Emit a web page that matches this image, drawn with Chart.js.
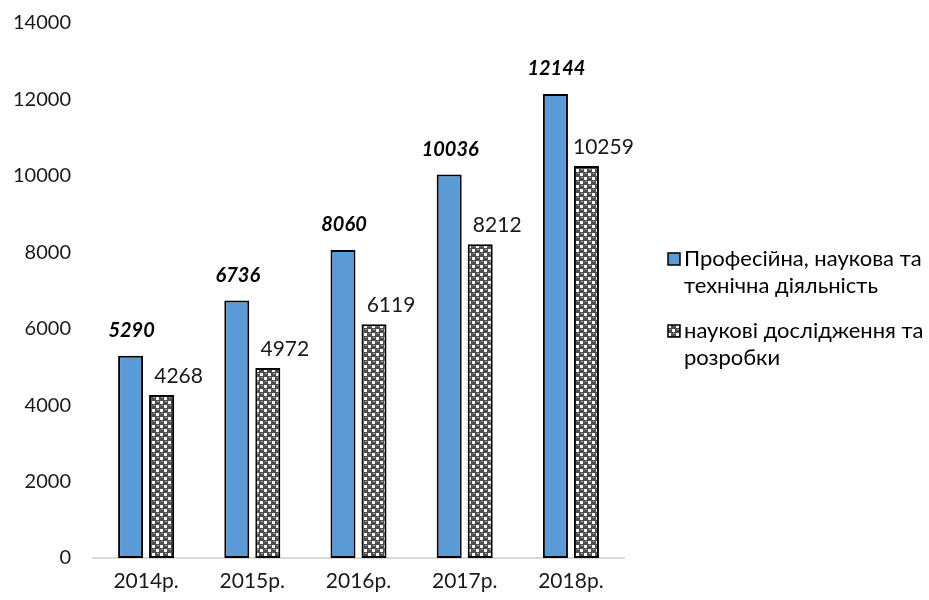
<!DOCTYPE html>
<html>
<head>
<meta charset="utf-8">
<script src="https://cdn.jsdelivr.net/npm/chart.js@4/dist/chart.umd.min.js"></script>
<style>
  html, body { margin: 0; padding: 0; background: #ffffff; }
  #wrap { position: relative; width: 929px; height: 600px; }
</style>
</head>
<body>
<div id="wrap"><canvas id="chart" width="929" height="600"></canvas></div>
<script>
// Years on the category axis
const years = ['2014р.', '2015р.', '2016р.', '2017р.', '2018р.'];
// Професійна, наукова та технічна діяльність
const professional = [5290, 6736, 8060, 10036, 12144];
// наукові дослідження та розробки
const research = [4268, 4972, 6119, 8212, 10259];
// Legend lines for each series
const legendLines = [
  ['Професійна, наукова та', 'технічна діяльність'],
  ['наукові дослідження та', 'розробки']
];
const yTicks = [0, 2000, 4000, 6000, 8000, 10000, 12000, 14000];

const FONT = 'Lato, "Noto Sans", sans-serif';
const BLUE = '#5b9bd5';

// Dotted "sphere" fill used for the research bars
function spherePattern() {
  const c = document.createElement('canvas');
  c.width = 8; c.height = 8;
  const g = c.getContext('2d');
  g.fillStyle = '#4d4d4d';
  g.fillRect(0, 0, 8, 8);
  g.fillStyle = '#ffffff';
  g.fillRect(0, 1, 3, 3);
  g.fillRect(4, 5, 3, 3);
  g.fillStyle = '#a6a6a6';
  g.fillRect(5, 1, 2, 1);
  g.fillRect(1, 5, 2, 1);
  return g.createPattern(c, 'repeat');
}
const pattern = spherePattern();

// Value labels above bars
const valueLabels = {
  id: 'valueLabels',
  afterDatasetsDraw(chart) {
    const ctx = chart.ctx;
    ctx.save();
    ctx.textAlign = 'center';
    ctx.textBaseline = 'middle';
    chart.data.datasets.forEach((ds, i) => {
      const meta = chart.getDatasetMeta(i);
      meta.data.forEach((bar, j) => {
        const v = ds.data[j];
        if (i === 0) {
          ctx.font = 'italic bold 20px ' + FONT;
          ctx.fillStyle = '#000000';
          ctx.fillText(String(v), bar.x + 1, bar.y - 25);
        } else {
          ctx.font = '21px ' + FONT;
          ctx.fillStyle = '#1a1a1a';
          ctx.fillText(String(v), bar.x + 17, bar.y - 19);
        }
      });
    });
    ctx.restore();
  }
};

// Side legend with wrapped series names
const sideLegend = {
  id: 'sideLegend',
  afterDraw(chart) {
    const ctx = chart.ctx;
    ctx.save();
    ctx.font = '22px ' + FONT;
    ctx.textBaseline = 'middle';
    ctx.textAlign = 'left';
    const items = [
      { fill: BLUE, y: 259 },
      { fill: pattern, y: 331 }
    ];
    items.forEach((it, i) => {
      ctx.fillStyle = it.fill;
      ctx.fillRect(668, it.y - 6, 12, 12);
      ctx.strokeStyle = '#000000';
      ctx.lineWidth = 1.5;
      ctx.strokeRect(668, it.y - 6, 12, 12);
      ctx.fillStyle = '#000000';
      legendLines[i].forEach((line, k) => {
        ctx.fillText(line, 684, it.y + k * 27);
      });
    });
    ctx.restore();
  }
};

new Chart(document.getElementById('chart'), {
  type: 'bar',
  data: {
    labels: years,
    datasets: [
      {
        label: legendLines[0].join(' '),
        data: professional,
        backgroundColor: BLUE,
        borderColor: '#000000',
        borderWidth: 2,
        borderSkipped: false,
        categoryPercentage: 0.584,
        barPercentage: 0.806
      },
      {
        label: legendLines[1].join(' '),
        data: research,
        backgroundColor: pattern,
        borderColor: '#000000',
        borderWidth: 2,
        borderSkipped: false,
        categoryPercentage: 0.584,
        barPercentage: 0.806
      }
    ]
  },
  options: {
    responsive: false,
    animation: false,
    layout: { padding: { top: 23, right: 305, left: 0, bottom: 0 } },
    plugins: {
      legend: { display: false },
      tooltip: { enabled: false }
    },
    scales: {
      x: {
        grid: { display: false, drawTicks: false },
        border: { display: true, color: '#d9d9d9', width: 2 },
        ticks: { color: '#1a1a1a', font: { size: 21, family: FONT }, padding: 11 },
        afterFit: s => { s.height = 42; }
      },
      y: {
        min: 0,
        max: 14000,
        afterBuildTicks: s => { s.ticks = yTicks.map(v => ({ value: v })); },
        grid: { display: false, drawTicks: false },
        border: { display: false },
        ticks: {
          color: '#1a1a1a',
          font: { size: 20, family: FONT },
          padding: 22,
          callback: v => String(v)
        },
        afterFit: s => {
          s.width = 93;
          s.paddingTop = 12;
          s.paddingBottom = 12;
        }
      }
    }
  },
  plugins: [valueLabels, sideLegend]
});
</script>
</body>
</html>
